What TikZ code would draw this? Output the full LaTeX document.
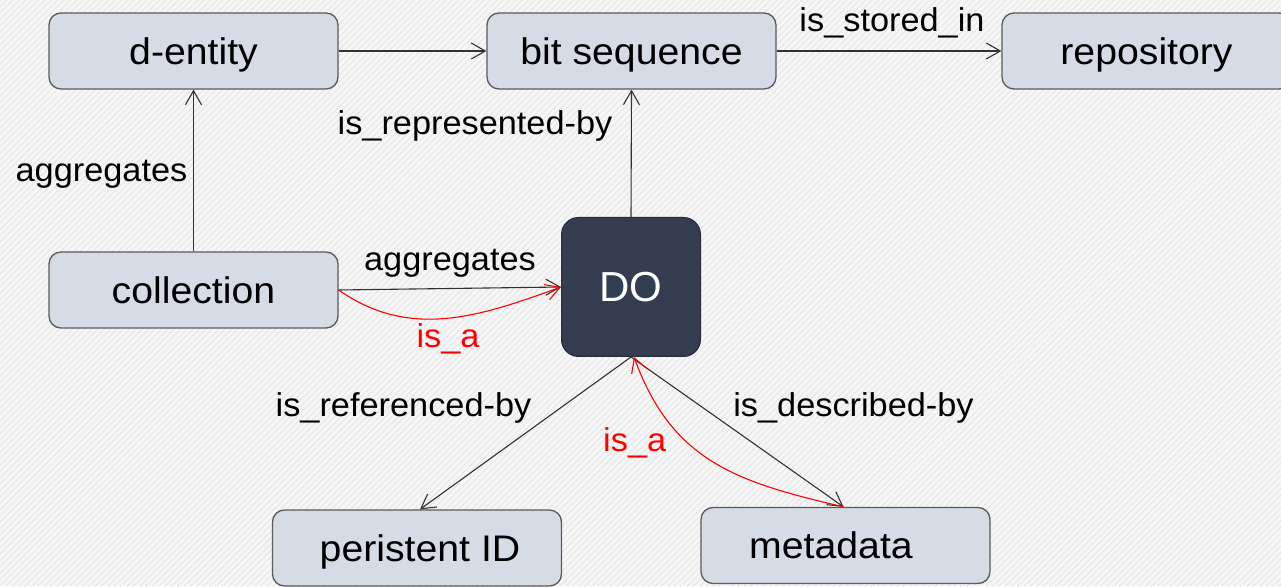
\documentclass[tikz,border=0pt]{standalone}
\usepackage{fontspec}
\setmainfont{Liberation Sans}
\newfontfamily\boxfont[FakeStretch=1.06]{Liberation Sans}
\newfontfamily\edgefont[FakeStretch=1.04]{Liberation Sans}
\usetikzlibrary{arrows.meta,patterns.meta}

\definecolor{bgfill}{RGB}{246,246,246}
\definecolor{bghatch}{RGB}{226,226,226}
\definecolor{boxfill}{RGB}{214,220,229}
\definecolor{boxline}{RGB}{90,90,90}
\definecolor{dofill}{RGB}{51,61,79}
\definecolor{doline}{RGB}{38,45,58}
\definecolor{linkcol}{RGB}{50,50,50}
\definecolor{isared}{RGB}{255,0,0}

\tikzset{
  entity/.style={draw=boxline, line width=1.3pt, fill=boxfill,
    rounded corners=12pt, minimum width=289pt, minimum height=76pt,
    inner sep=0pt, text height=26.5pt, text depth=0pt,
    font=\boxfont\fontsize{37}{40}\selectfont},
  dobox/.style={draw=doline, line width=1pt, fill=dofill,
    rounded corners=17pt, minimum width=139pt, minimum height=139pt,
    inner sep=0pt, text height=30pt, text depth=0pt, text=white,
    font=\fontsize{42}{45}\selectfont},
  tip/.style={-{Straight Barb[length=14pt,width=16pt,line width=1.1pt]}},
  link/.style={tip, draw=linkcol, line width=1.1pt},
  isalink/.style={tip, draw=isared, line width=1.1pt},
  lbl/.style={anchor=base, inner sep=0pt, font=\edgefont\fontsize{33}{36}\selectfont},
  isalbl/.style={lbl, text=isared}
}

\begin{document}
\begin{tikzpicture}[x=1pt,y=1pt]
  \useasboundingbox (0,0) rectangle (1281,586);
  % hatched page background
  \fill[bgfill] (0,0) rectangle (1281,586);
  \fill[pattern={Lines[angle=45,distance=4.5pt,line width=0.7pt]}, pattern color=bghatch]
    (0,0) rectangle (1281,586);

  % entities
  \node[entity] (dent) at (193.5,535) {d-entity};
  \node[entity] (bits) at (631.5,535) {bit sequence};
  \node[entity] (repo) at (1146.5,535) {repository};
  \node[entity] (coll) at (193.5,296) {collection};
  \node[dobox]  (do)   at (631,299) {DO};
  \node[entity] (pid)  at (417,38) {\kern6pt peristent ID};
  \node[entity] (meta) at (845.5,40.5) {metadata\kern29pt};

  % relations
  \draw[link] (dent) -- (bits);
  \draw[link] (bits) -- (repo);
  \draw[link] (coll.north) -- (dent.south);
  \draw[link] (do.north) -- (bits.south);
  \draw[link] (coll.east) -- (do.west);
  \draw[isalink] (coll.east) to[out=-35,in=200] (do.west);
  \draw[link] (do.south) -- ([xshift=3pt]pid.north);
  \draw[link] (do.south) -- ([xshift=-2pt]meta.north);
  \draw[isalink] ([xshift=-2pt]meta.north) to[out=167,in=-70,looseness=1.1] ([xshift=3pt]do.south);

  % relation labels
  \node[lbl] (lstored) at (892,554) {is\_stored\_in};
  \node[lbl] (laggr1) at (101.5,404) {aggregates};
  \node[lbl] (lrepr) at (475,451) {is\_represented-by};
  \node[lbl] (laggr2) at (450,315) {aggregates};
  \node[isalbl] (lisa1) at (448,238) {is\_a};
  \node[lbl] (lref) at (403.5,169.3) {is\_referenced-by};
  \node[lbl] (ldesc) at (853.5,169.3) {is\_described-by};
  \node[isalbl] (lisa2) at (634.7,134.3) {is\_a};
\end{tikzpicture}
\end{document}
